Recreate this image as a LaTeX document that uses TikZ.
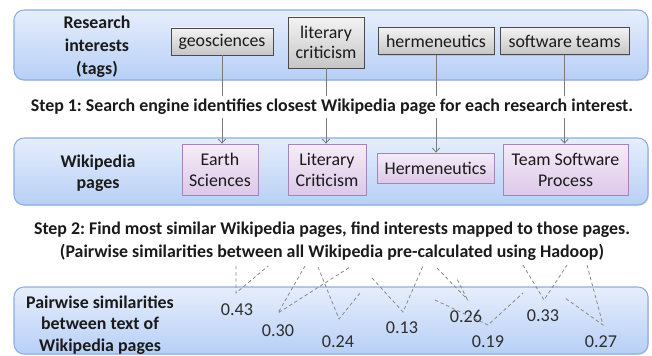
\documentclass[tikz,border=0pt]{standalone}
\usepackage{fontspec}
\setmainfont{Carlito}
\usetikzlibrary{arrows.meta,shadows}

\definecolor{bandtop}{HTML}{E6EEFC}
\definecolor{bandbot}{HTML}{B7CFF6}
\definecolor{bandline}{HTML}{8DAEE0}
\definecolor{tagtop}{HTML}{F3F3F3}
\definecolor{tagbot}{HTML}{C6C6C6}
\definecolor{tagline}{HTML}{4A4A4A}
\definecolor{pagetop}{HTML}{F5ECF8}
\definecolor{pagebot}{HTML}{DCC8E8}
\definecolor{pageline}{HTML}{A484BC}
\definecolor{linkgray}{HTML}{7A7A7A}
\definecolor{dashgray}{HTML}{8A8A8A}
\definecolor{inktext}{HTML}{1A1A1A}
\definecolor{numtext}{HTML}{2E2E2E}

\frenchspacing

\tikzset{
  band/.style={draw=bandline, line width=0.8pt, rounded corners=7.5pt,
    top color=bandtop, bottom color=bandbot,
    drop shadow={opacity=0.18, shadow xshift=0.6pt, shadow yshift=-0.8pt}},
  bandlabel/.style={font=\fontsize{13.4}{16}\selectfont\bfseries, align=center, text=inktext},
  tagbox/.style={draw=tagline, line width=0.6pt, top color=tagtop, bottom color=tagbot,
    inner sep=0pt, align=center, text=inktext,
    font=\fontsize{13.4}{15}\selectfont,
    drop shadow={opacity=0.25, shadow xshift=0.8pt, shadow yshift=-0.8pt}},
  pagebox/.style={draw=pageline, line width=0.6pt, top color=pagetop, bottom color=pagebot,
    inner sep=0pt, align=center, text=inktext,
    font=\fontsize{13.4}{15.75}\selectfont,
    drop shadow={opacity=0.18, shadow xshift=0.8pt, shadow yshift=-0.8pt}},
  steptext/.style={font=\fontsize{13.4}{17}\selectfont\bfseries, align=center,
    fill=white, inner xsep=2pt, inner ysep=2.5pt, text=inktext},
  maplink/.style={draw=linkgray, line width=0.6pt,
    -{Straight Barb[length=3pt,width=5.5pt,line width=0.6pt]}},
  simlink/.style={draw=dashgray, line width=0.6pt, dash pattern=on 2.6pt off 2pt},
  simval/.style={font=\fontsize{13.6}{16}\selectfont, text=numtext, inner sep=0pt}
}

\begin{document}
\begin{tikzpicture}[x=0.75pt, y=-0.75pt]
\useasboundingbox (0,0) rectangle (652,356);

% three horizontal bands
\path[band] (14,10) rectangle (648,80);
\path[band] (14,138) rectangle (648,205);
\path[band] (14,287) rectangle (648,354);

\node[bandlabel, font=\fontsize{13.4}{17.25}\selectfont\bfseries] (lblTags) at (97,47)
  {Research\\interests\\(tags)};
\node[bandlabel] (lblPages) at (98,173) {Wikipedia\\pages};
\node[bandlabel] (lblSim) at (100,325) {Pairwise similarities\\between text of\\Wikipedia pages};

% research interest tags
\node[tagbox, minimum width=76.5pt, minimum height=20.25pt] (tGeo) at (222,41.5) {geosciences};
\node[tagbox, minimum width=57pt, minimum height=38.25pt] (tLit) at (326,42.5) {literary\\criticism};
\node[tagbox, minimum width=87pt, minimum height=20.25pt] (tHer) at (436,41) {hermeneutics};
\node[tagbox, minimum width=96.75pt, minimum height=20.25pt] (tSoft) at (564.5,41) {software teams};

% Wikipedia pages
\node[pagebox, minimum width=57pt, minimum height=38.25pt] (pEarth) at (220,169.5) {Earth\\Sciences};
\node[pagebox, minimum width=58.5pt, minimum height=38.25pt] (pLit) at (327,169.5) {Literary\\Criticism};
\node[pagebox, minimum width=87.75pt, minimum height=22.5pt] (pHer) at (435.5,168) {Hermeneutics};
\node[pagebox, minimum width=93.75pt, minimum height=38.25pt] (pTeam) at (565.5,169.5) {Team Software\\Process};

% tag -> page mapping
\draw[maplink] (tGeo.south) -- (tGeo.south |- pEarth.north);
\draw[maplink] (tLit.south) -- (tLit.south |- pLit.north);
\draw[maplink] (tHer.south) -- (tHer.south |- pHer.north);
\draw[maplink] (tSoft.south) -- (tSoft.south |- pTeam.north);

\node[steptext] (step1) at (332,107)
  {Step 1: Search engine identifies closest Wikipedia page for each research interest.};

\node[steptext, fill=none] (step2) at (332,241.5)
  {Step 2: Find most similar Wikipedia pages, find interests mapped to those pages.\\
   (Pairwise similarities between all Wikipedia pre-calculated using Hadoop)};

% similarity values
\node[simval] (s43) at (237,310) {0.43};
\node[simval] (s30) at (278,331) {0.30};
\node[simval] (s24) at (338,342) {0.24};
\node[simval] (s13) at (402,328) {0.13};
\node[simval] (s26) at (466,316) {0.26};
\node[simval] (s19) at (488,342) {0.19};
\node[simval] (s33) at (543,316) {0.33};
\node[simval] (s27) at (601,342) {0.27};

% meeting points of the dashed pairs
\coordinate (v43) at (236,293);
\coordinate (v30) at (278,313);
\coordinate (v24) at (339,319);
\coordinate (v13) at (403,312);
\coordinate (v26) at (467,299);
\coordinate (v19) at (488,325);
\coordinate (v33) at (544,300);
\coordinate (v27) at (603,325);

% loose ends of the dashed pairs
\coordinate (a43) at (236,266); \coordinate (b43) at (268,266);
\coordinate (a30) at (305,266); \coordinate (b30) at (350,267);
\coordinate (a24) at (318,267); \coordinate (b24) at (360,293);
\coordinate (a13) at (372,278); \coordinate (b13) at (423,266);
\coordinate (a26) at (437,268); \coordinate (b26) at (457,279);
\coordinate (a19) at (435,300); \coordinate (b19) at (523,293);
\coordinate (a33) at (523,265); \coordinate (b33) at (567,265);
\coordinate (a27) at (587,265); \coordinate (b27) at (565,298);

\foreach \k in {43,30,24,13,26,19,33,27}{
  \draw[simlink] (a\k) -- (v\k) -- (b\k);
}
\end{tikzpicture}
\end{document}
